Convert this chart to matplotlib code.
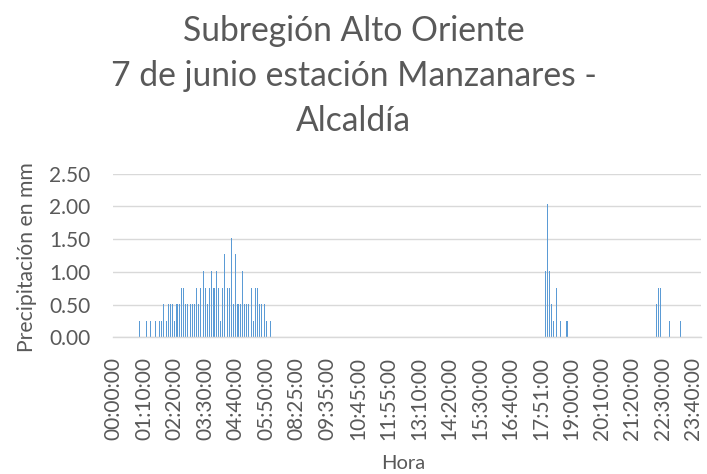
import matplotlib
matplotlib.use("Agg")
import matplotlib.pyplot as plt

plt.rcParams['font.family'] = ['Lato', 'DejaVu Sans']

# ---------------- data ----------------
title_lines = ["Subregión Alto Oriente",
               "7 de junio estación Manzanares -",
               "Alcaldía"]
y_label = "Precipitación en mm"
x_label = "Hora"

# recorded timestamps (category axis)
horas = """
00:00:00 00:05:00 00:10:00 00:15:00 00:20:00 00:25:00 00:30:00 00:35:00 00:40:00 00:45:00 00:50:00 00:55:00
01:00:00 01:05:00 01:10:00 01:15:00 01:20:00 01:25:00 01:30:00 01:35:00 01:40:00 01:45:00 01:50:00 01:55:00
02:00:00 02:05:00 02:10:00 02:15:00 02:20:00 02:25:00 02:30:00 02:35:00 02:40:00 02:45:00 02:50:00 02:55:00
03:00:00 03:05:00 03:10:00 03:15:00 03:20:00 03:25:00 03:30:00 03:35:00 03:40:00 03:45:00 03:50:00 03:55:00
04:00:00 04:05:00 04:10:00 04:15:00 04:20:00 04:25:00 04:30:00 04:35:00 04:40:00 04:45:00 04:50:00 04:55:00
05:00:00 05:05:00 05:10:00 05:15:00 05:20:00 05:25:00 05:30:00 05:35:00 05:40:00 05:45:00 05:50:00 05:55:00
06:00:00
07:30:00 07:35:00 07:40:00 07:45:00 07:50:00 07:55:00
08:00:00 08:05:00 08:10:00 08:15:00 08:20:00 08:25:00 08:30:00 08:35:00 08:40:00 08:45:00 08:50:00 08:55:00
09:00:00 09:05:00 09:10:00 09:15:00 09:20:00 09:25:00 09:30:00 09:35:00 09:40:00 09:45:00 09:50:00 09:55:00
10:00:00 10:05:00 10:10:00 10:15:00 10:20:00 10:25:00 10:30:00 10:35:00 10:40:00 10:45:00 10:50:00 10:55:00
11:00:00 11:05:00 11:10:00 11:15:00 11:20:00 11:25:00 11:30:00 11:35:00 11:40:00 11:45:00 11:50:00 11:55:00
12:05:00 12:10:00 12:15:00 12:20:00 12:25:00 12:30:00 12:35:00 12:40:00 12:45:00 12:50:00 12:55:00
13:00:00 13:05:00 13:10:00 13:15:00 13:20:00 13:25:00 13:30:00 13:35:00 13:40:00 13:45:00 13:50:00 13:55:00
14:00:00 14:05:00 14:10:00 14:15:00 14:20:00 14:25:00 14:30:00 14:35:00 14:40:00 14:45:00 14:50:00 14:55:00
15:00:00 15:05:00 15:10:00 15:15:00 15:20:00 15:25:00 15:30:00 15:35:00 15:40:00 15:45:00 15:50:00 15:55:00
16:00:00 16:05:00 16:10:00 16:15:00 16:20:00 16:25:00 16:30:00 16:35:00 16:40:00 16:45:00 16:50:00 16:55:00
17:00:00 17:05:00 17:10:00 17:15:00 17:20:00 17:25:00 17:30:00 17:35:00 17:40:00 17:45:00 17:51:00 17:55:00
18:00:00 18:05:00 18:10:00 18:15:00 18:20:00 18:25:00 18:30:00 18:35:00 18:40:00 18:45:00 18:50:00 18:55:00
19:00:00 19:05:00 19:10:00 19:15:00 19:20:00 19:25:00 19:30:00 19:35:00 19:40:00 19:45:00 19:50:00 19:55:00
20:00:00 20:05:00 20:10:00 20:15:00 20:20:00 20:25:00 20:30:00 20:35:00 20:40:00 20:45:00 20:50:00 20:55:00
21:00:00 21:05:00 21:10:00 21:15:00 21:20:00 21:25:00 21:30:00 21:35:00 21:40:00 21:45:00 21:50:00 21:55:00
22:00:00 22:05:00 22:10:00 22:15:00 22:20:00 22:25:00 22:30:00 22:35:00 22:40:00 22:45:00 22:50:00 22:55:00
23:00:00 23:05:00 23:10:00 23:15:00 23:20:00 23:25:00 23:30:00 23:35:00 23:40:00 23:45:00 23:50:00 23:55:00
""".split()

# non-zero precipitation readings (mm)
lluvia_hora = [
    "01:00:00", "01:15:00", "01:25:00", "01:35:00", "01:45:00", "01:50:00", "01:55:00",
    "02:00:00", "02:05:00", "02:10:00", "02:15:00", "02:20:00", "02:25:00", "02:30:00",
    "02:35:00", "02:40:00", "02:45:00", "02:50:00", "02:55:00", "03:00:00", "03:05:00",
    "03:10:00", "03:15:00", "03:20:00", "03:25:00", "03:30:00", "03:35:00", "03:40:00",
    "03:45:00", "03:50:00", "03:55:00", "04:00:00", "04:05:00", "04:10:00", "04:15:00",
    "04:20:00", "04:25:00", "04:30:00", "04:35:00", "04:40:00", "04:45:00", "04:50:00",
    "04:55:00", "05:00:00", "05:05:00", "05:10:00", "05:15:00", "05:20:00", "05:25:00",
    "05:30:00", "05:35:00", "05:40:00", "05:45:00", "05:50:00", "06:00:00",
    "18:00:00", "18:05:00", "18:10:00", "18:15:00", "18:20:00", "18:25:00", "18:35:00",
    "18:50:00",
    "22:15:00", "22:20:00", "22:25:00", "22:45:00", "23:10:00",
]
lluvia_mm = [
    0.25, 0.25, 0.25, 0.25, 0.25, 0.25, 0.51,
    0.25, 0.51, 0.51, 0.51, 0.25, 0.51, 0.51,
    0.76, 0.76, 0.51, 0.51, 0.51, 0.51, 0.51,
    0.76, 0.51, 0.76, 1.02, 0.76, 0.51, 0.76,
    1.02, 0.76, 1.02, 0.76, 0.25, 0.76, 1.27,
    0.76, 0.76, 1.52, 0.51, 1.27, 0.51, 0.51,
    1.02, 0.51, 0.51, 0.51, 0.76, 0.25, 0.76,
    0.76, 0.51, 0.51, 0.51, 0.25, 0.25,
    1.02, 2.03, 1.02, 0.51, 0.25, 0.76, 0.25,
    0.25,
    0.51, 0.76, 0.76, 0.25, 0.25,
]
y_ticks = [0.0, 0.5, 1.0, 1.5, 2.0, 2.5]
label_every = 14

# ---------------- styling ----------------
TEXT = "#595959"
GRID = "#D9D9D9"
BAR = "#5B9BD5"

W, H = 707, 474
fig = plt.figure(figsize=(W / 100, H / 100), dpi=100)
ax = fig.add_axes([112.7 / W, 1 - 337.3 / H, (701 - 112.7) / W, (337.3 - 173.7) / H])

pos = {h: i for i, h in enumerate(horas)}
xs = [pos[h] for h in lluvia_hora]
ax.bar(xs, lluvia_mm, width=0.5, color=BAR, linewidth=0, zorder=3)

ax.set_xlim(-0.5, len(horas) - 0.5)
ax.set_ylim(y_ticks[0], y_ticks[-1])
ax.set_yticks(y_ticks)
ax.set_yticklabels([f"{v:.2f}" for v in y_ticks])
tick_idx = list(range(0, len(horas), label_every))
ax.set_xticks(tick_idx)
ax.set_xticklabels([horas[i] for i in tick_idx], rotation=90, va="top", ha="center")

ax.tick_params(axis="y", length=0, pad=16, labelsize=15, labelcolor=TEXT)
ax.tick_params(axis="x", length=0, pad=14, labelsize=15, labelcolor=TEXT)

ax.yaxis.grid(True, color=GRID, linewidth=1.0, zorder=0)
ax.set_axisbelow(True)
for s in ["top", "right", "left"]:
    ax.spines[s].set_visible(False)
ax.spines["bottom"].set_color(GRID)
ax.spines["bottom"].set_linewidth(1.0)
ax.spines["bottom"].set_zorder(4)

# title (three lines, centered on figure)
baselines = [41, 85.5, 131]
for line, yb in zip(title_lines, baselines):
    fig.text(0.5, 1 - yb / H, line, ha="center", va="baseline",
             fontsize=24.2, color=TEXT)

fig.text(27 / W, 1 - 257 / H, y_label, rotation=90, ha="center", va="center",
         fontsize=15.2, color=TEXT)
fig.text(403 / W, 1 - 469 / H, x_label, ha="center", va="baseline",
         fontsize=14.5, color=TEXT)

fig.savefig("out.png", dpi=100)
